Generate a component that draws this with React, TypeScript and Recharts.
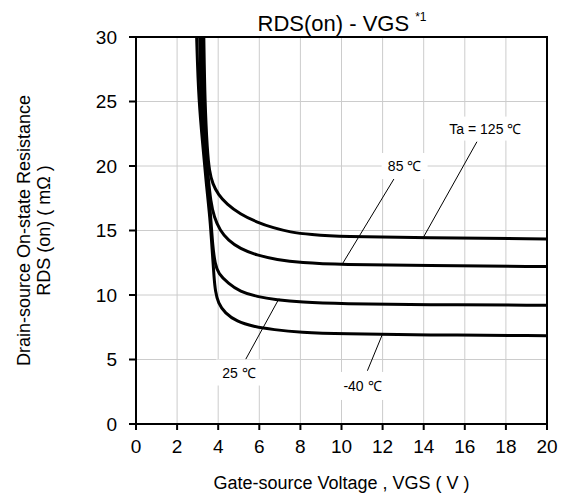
import {
  LineChart,
  Line,
  XAxis,
  YAxis,
  CartesianGrid,
  ReferenceLine,
  ReferenceDot,
  ReferenceArea,
} from "recharts";

const FONT = '"Liberation Sans", Arial, sans-serif';

const xTicks = [0, 2, 4, 6, 8, 10, 12, 14, 16, 18, 20];
const yTicks = [0, 5, 10, 15, 20, 25, 30];

// Ta = -40 °C
const vgsM40 = [2.95, 3.05, 3.28, 3.42, 3.6, 3.71, 3.8, 3.86, 4.0, 4.33, 4.9, 5.71, 6.69, 7.99, 10, 14, 20];
const rdsM40 = [30, 25, 21.15, 18.6, 16.0, 13.4, 11.3, 10.3, 9.36, 8.59, 7.95, 7.56, 7.31, 7.1, 6.98, 6.9, 6.85];

// Ta = 25 °C
const vgs25 = [3.1, 3.15, 3.35, 3.5, 3.64, 3.73, 3.85, 4.0, 4.49, 5.06, 5.88, 6.85, 7.99, 10, 14, 20];
const rds25 = [30, 25, 21.15, 18.6, 16.0, 13.8, 12.4, 11.67, 10.9, 10.26, 9.87, 9.62, 9.44, 9.32, 9.25, 9.2];

// Ta = 85 °C
const vgs85 = [3.2, 3.25, 3.4, 3.52, 3.63, 3.8, 4.09, 4.49, 5.06, 5.88, 6.85, 7.99, 10, 14, 20];
const rds85 = [30, 25, 21.15, 19.0, 17.3, 16.03, 15.0, 14.23, 13.59, 13.08, 12.74, 12.5, 12.35, 12.28, 12.2];

// Ta = 125 °C
const vgs125 = [3.3, 3.35, 3.47, 3.57, 3.73, 4.0, 4.41, 5.06, 5.88, 6.69, 7.5, 8.48, 10, 14, 20];
const rds125 = [30, 25, 21.15, 19.6, 18.6, 17.8, 17.05, 16.28, 15.64, 15.2, 14.87, 14.69, 14.52, 14.43, 14.35];

const toPts = (xs: number[], ys: number[]) => xs.map((x, i) => ({ x, y: ys[i] }));

const series = [
  { name: "-40", data: toPts(vgsM40, rdsM40) },
  { name: "25", data: toPts(vgs25, rds25) },
  { name: "85", data: toPts(vgs85, rds85) },
  { name: "125", data: toPts(vgs125, rds125) },
];

// curve labels: text, label centre, leader line from label to curve
const labelText = ["Ta = 125 \u2103", "85 \u2103", "25 \u2103", "-40 \u2103"];
const labelAt = [
  { x: 17.0, y: 22.9, w: 82, h: 24 },
  { x: 13.07, y: 20.0, w: 46, h: 26 },
  { x: 5.01, y: 3.99, w: 46, h: 26 },
  { x: 11.02, y: 2.95, w: 44, h: 28 },
];
const leaders = [
  [{ x: 16.59, y: 21.88 }, { x: 13.97, y: 14.43 }],
  [{ x: 12.55, y: 18.99 }, { x: 10.02, y: 12.35 }],
  [{ x: 5.34, y: 5.02 }, { x: 6.96, y: 9.72 }],
  [{ x: 11.26, y: 4.13 }, { x: 11.99, y: 6.95 }],
];

const boxShape = (text: string, w: number, h: number) => (p: any) => (
  <g>
    <rect x={p.cx - w / 2} y={p.cy - h / 2} width={w} height={h} fill="#fff" />
    <text x={p.cx} y={p.cy + 5} textAnchor="middle" fontSize={14} fontFamily={FONT} fill="#000">
      {text}
    </text>
  </g>
);

const YLabel = (props: any) => {
  const vb = props.viewBox || {};
  const cy = vb.height ? vb.y + vb.height / 2 : 231;
  return (
    <g fontFamily={FONT} fontSize={18} fill="#000">
      <text x={30} y={cy} textAnchor="middle" transform={`rotate(-90 30 ${cy})`}>
        Drain-source On-state Resistance
      </text>
      <text x={50} y={cy} textAnchor="middle" transform={`rotate(-90 50 ${cy})`}>
        RDS (on) ( m&#937; )
      </text>
    </g>
  );
};

const XLabel = (props: any) => {
  const vb = props.viewBox || {};
  const cx = vb.width ? vb.x + vb.width / 2 : 341;
  const y = vb.y !== undefined ? vb.y + 64.5 : 488.5;
  return (
    <text x={cx} y={y} textAnchor="middle" fontFamily={FONT} fontSize={18} fill="#000">
      Gate-source Voltage , VGS ( V )
    </text>
  );
};

export default function App() {
  return (
    <div style={{ position: "absolute", left: 0, top: 0, width: 576, height: 496, background: "#fff" }}>
      <LineChart width={576} height={496} margin={{ top: 37, right: 29, left: 56, bottom: 0 }}>
        <CartesianGrid stroke="#cccccc" strokeWidth={1} />
        <XAxis
          type="number"
          dataKey="x"
          domain={[0, 20]}
          ticks={xTicks}
          allowDataOverflow
          height={72}
          axisLine={{ stroke: "#000", strokeWidth: 2 }}
          tickLine={{ stroke: "#000", strokeWidth: 2 }}
          tickSize={6}
          tickMargin={10}
          tick={{ fill: "#000", fontSize: 19, fontFamily: FONT }}
          label={{ content: XLabel }}
        />
        <YAxis
          type="number"
          domain={[0, 30]}
          ticks={yTicks}
          allowDataOverflow
          width={80}
          axisLine={{ stroke: "#000", strokeWidth: 2 }}
          tickLine={{ stroke: "#000", strokeWidth: 2 }}
          tickSize={7}
          tickMargin={12}
          tick={{ fill: "#000", fontSize: 19, fontFamily: FONT }}
          label={{ content: YLabel }}
        />
        <ReferenceArea x1={0} x2={20} y1={0} y2={30} fill="none" stroke="#000" strokeWidth={2} ifOverflow="visible" />
        {leaders.map((seg, i) => (
          <ReferenceLine key={"l" + i} segment={seg} stroke="#000" strokeWidth={1} ifOverflow="visible" />
        ))}
        {labelText.map((t, i) => (
          <ReferenceDot
            key={"d" + i}
            x={labelAt[i].x}
            y={labelAt[i].y}
            r={0}
            ifOverflow="visible"
            shape={boxShape(t, labelAt[i].w, labelAt[i].h)}
          />
        ))}
        {series.map((s) => (
          <Line
            key={s.name}
            data={s.data}
            dataKey="y"
            type="basis"
            stroke="#000"
            strokeWidth={3}
            dot={false}
            activeDot={false}
            isAnimationActive={false}
          />
        ))}
      </LineChart>
      <svg width={576} height={496} style={{ position: "absolute", left: 0, top: 0, pointerEvents: "none" }}>
        <text x={342} y={31} textAnchor="middle" fontFamily={FONT} fontSize={22} fill="#000">
          RDS(on) - VGS
          <tspan fontSize={12} dx={6} dy={-10}>*1</tspan>
        </text>
      </svg>
    </div>
  );
}
